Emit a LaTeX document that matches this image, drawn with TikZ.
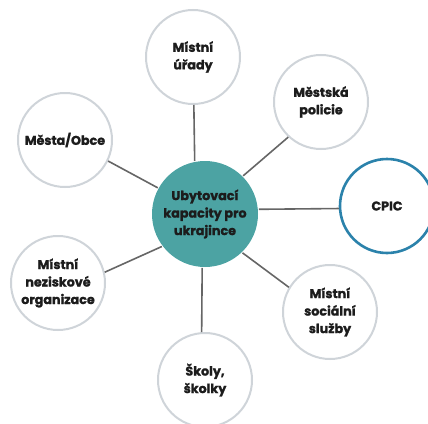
\documentclass[tikz,border=0pt]{standalone}
\usepackage{fontspec}
\setmainfont{Poppins}[BoldFeatures={FakeBold=1.3}]
\newlength{\du}
\setlength{\du}{1pt}
\definecolor{hubcolor}{rgb}{0.300000, 0.640000, 0.640000}
\definecolor{ringcolor}{rgb}{0.810000, 0.830000, 0.850000}
\definecolor{cpiccolor}{rgb}{0.170000, 0.510000, 0.670000}
\definecolor{linkcolor}{rgb}{0.400000, 0.400000, 0.400000}
\definecolor{labelcolor}{rgb}{0.110000, 0.110000, 0.110000}
\tikzset{
  partner/.style={circle, draw=ringcolor, line width=2\du, fill=white,
    minimum size=94\du, inner sep=0pt, align=center, text=labelcolor,
    font=\bfseries\fontsize{12.7}{17.5}\selectfont},
  cpicnode/.style={partner, draw=cpiccolor, line width=2.6\du},
  hubnode/.style={partner, draw=none, fill=hubcolor, minimum size=106\du},
  link/.style={draw=linkcolor, line width=1.6\du}
}

\begin{document}
\begin{tikzpicture}
\pgftransformxscale{1.000000}
\pgftransformyscale{-1.000000}
\useasboundingbox (0\du,0\du) rectangle (428\du,423\du);
% centre
\node[hubnode] (hub) at (205\du,214\du){Ubytovací\\kapacity pro\\ukrajince};
% partners round the centre
\node[partner] (urady) at (193\du,57\du){Místní\\úřady};
\node[partner] (policie) at (321\du,102\du){Městská\\policie};
\node[cpicnode] (cpic) at (387\du,206\du){CPIC};
\node[partner] (sluzby) at (330\du,312\du){Místní\\sociální\\služby};
\node[partner] (skoly) at (205\du,380\du){Školy,\\školky};
\node[partner] (neziskove) at (58\du,283\du){Místní\\neziskové\\organizace};
\node[partner] (mesta) at (65\du,140\du){Města/Obce};
% links
\draw[link] (hub.101) -- (urady.271);
\draw[link] (hub.45) -- (policie.227);
\draw[link] (hub.5) -- (cpic.183);
\draw[link] (hub.314) -- (sluzby.149);
\draw[link] (hub.267) -- (skoly.94);
\draw[link] (hub.217) -- (neziskove.13);
\draw[link] (hub.151) -- (mesta.334);
\end{tikzpicture}
\end{document}
